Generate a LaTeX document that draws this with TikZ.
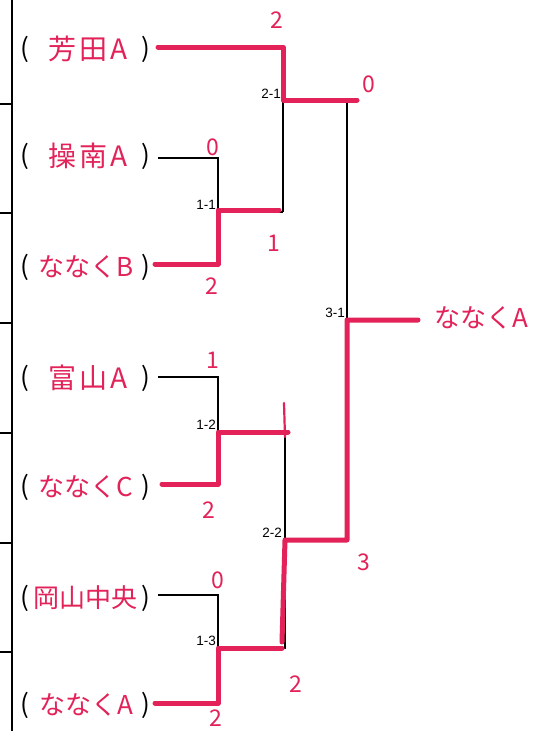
\documentclass[tikz,border=0pt]{standalone}
\usepackage{fontspec}
\setmainfont{Liberation Sans}
\newfontfamily\jp{Noto Sans CJK JP}
\newfontfamily\jpw[LetterSpace=12]{Noto Sans CJK JP}
\definecolor{pen}{RGB}{226,34,88}
\begin{document}
\begin{tikzpicture}[x=1pt,y=-1pt,
  frame/.style={line width=1.8pt,black},
  bline/.style={line width=1.3pt,black},
  rline/.style={line width=5pt,pen,line join=round,line cap=round},
  team/.style={font=\jpw\fontsize{28}{28}\selectfont,text=pen,inner sep=0pt},
  teamn/.style={font=\jp\fontsize{26}{26}\selectfont,text=pen,inner sep=0pt},
  paren/.style={font=\jp\fontsize{26}{26}\selectfont,text=black,inner sep=0pt},
  score/.style={font=\jp\fontsize{23}{23}\selectfont,text=pen,inner sep=0pt},
  mlabel/.style={font=\fontsize{13.5}{13.5}\selectfont,inner sep=1pt,anchor=south east}]
\useasboundingbox (0,0) rectangle (555,731);
\fill[white] (0,0) rectangle (555,731);
% left frame
\draw[frame] (12,0) -- (12,731);
\foreach \yy in {104,213,323,433,543,652} \draw[frame] (0,\yy) -- (12,\yy);
% team names
\foreach \n/\yy in {1/49,2/156,3/267,4/378,5/487,6/598,7/705}{
  \node[paren] (pl\n) at (25,\yy) {(};
  \node[paren] (pr\n) at (146,\yy) {)};
}
\node[team] (tm1) at (88,49) {芳田A};
\node[team] (tm2) at (88,156) {操南A};
\node[teamn] (tm3) at (86,267) {ななくB};
\node[team] (tm4) at (88,378) {富山A};
\node[teamn] (tm5) at (86,487) {ななくC};
\node[teamn] (tm6) at (86,598) {岡山中央};
\node[teamn] (tm7) at (86,705) {ななくA};
% bracket coordinates
\coordinate (a1) at (158,47);  \coordinate (b1) at (283,47);
\coordinate (a2) at (158,158); \coordinate (b2) at (218,158);
\coordinate (a3) at (158,266); \coordinate (b3) at (218,266);
\coordinate (a4) at (158,377); \coordinate (b4) at (218,377);
\coordinate (a5) at (160,485); \coordinate (b5) at (218,485);
\coordinate (a6) at (158,595); \coordinate (b6) at (218,595);
\coordinate (a7) at (158,703); \coordinate (b7) at (218,703);
\coordinate (m11) at (218,212); \coordinate (e11) at (283,212);
\coordinate (m12) at (218,432); \coordinate (e12) at (285,432);
\coordinate (m13) at (218,648); \coordinate (e13) at (285,648);
\coordinate (m21) at (283,100); \coordinate (e21) at (347,100);
\coordinate (m22) at (285,540); \coordinate (e22) at (347,540);
\coordinate (m31) at (347,320); \coordinate (e31) at (418,320);
% black bracket
\draw[bline] (a1) -- (b1) -- (e11);
\draw[bline] (a2) -- (b2) -- (b3) -- (a3);
\draw[bline] (a4) -- (b4) -- (b5) -- (a5);
\draw[bline] (a6) -- (b6) -- (b7) -- (a7);
\draw[bline] (m11) -- (e11);
\draw[bline] (m12) -- (e12) -- (e13) -- (m13);
\draw[bline] (m21) -- (e21) -- (e22) -- (m22);
\draw[bline] (m31) -- (e31);
% red winning paths
\draw[rline] (a1) -- (b1) -- (m21) -- ([xshift=10pt]e21);
\draw[rline] ([xshift=-3pt,yshift=2pt]a3) -- ([yshift=2pt]b3) -- ([yshift=2pt]m11) -- ([xshift=-4pt,yshift=2pt]e11);
\draw[rline] ([xshift=2pt,yshift=1pt]a5) -- ([yshift=1pt]b5) -- (m12) -- ([xshift=3pt]e12);
\draw[rline] ([xshift=-3pt]a7) -- (b7) -- (m13) -- ([xshift=-3pt]e13);
\draw[rline] ([xshift=-3pt,yshift=6pt]e13) -- (m22) -- (e22) -- (m31) -- (e31);
% match labels
\node[mlabel] (l21) at (282,100) {2-1};
\node[mlabel] (l11) at (217,211) {1-1};
\node[mlabel] (l12) at (217,431) {1-2};
\node[mlabel] (l13) at (217,647) {1-3};
\node[mlabel] (l22) at (283,539) {2-2};
\node[mlabel] (l31) at (346,319) {3-1};
% scores
\node[score] (s1) at (277,20) {2};
\node[score] (s2) at (213,147) {0};
\node[score] (s3) at (212,286) {2};
\node[score] (s4) at (213,360) {1};
\node[score] (s5) at (209,510) {2};
\node[score] (s6) at (218,580) {0};
\node[score] (s7) at (216,718) {2};
\node[score] (s11) at (274,243) {1};
\node[score] (s21) at (369,84) {0};
\node[score] (s13) at (296,684) {2};
\node[score] (s22) at (364,562) {3};
\draw[pen,line width=2.2pt,line cap=round] (284,403) -- (285,437);
% champion
\node[teamn,anchor=west] (champ) at (434,318) {ななくA};
\end{tikzpicture}
\end{document}
